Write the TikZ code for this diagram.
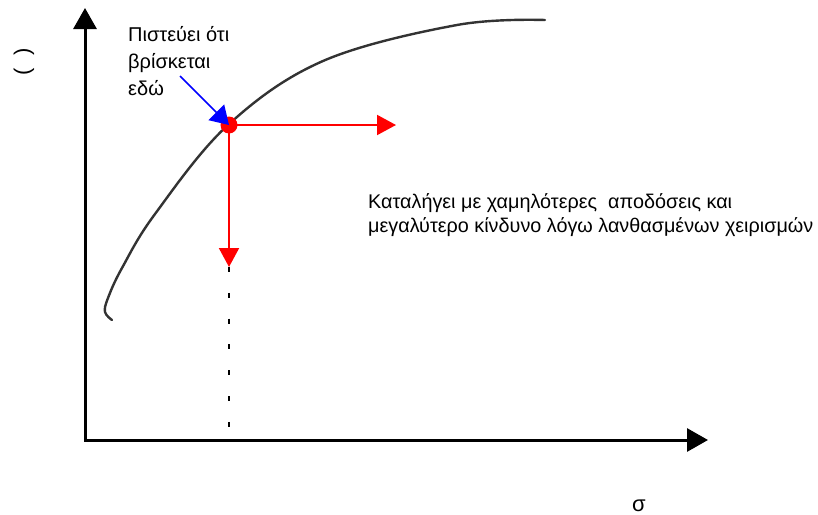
\documentclass[tikz,border=0pt]{standalone}
\usepackage{fontspec}
\setmainfont{Liberation Sans}
\usetikzlibrary{arrows.meta}
\begin{document}
\begin{tikzpicture}[x=1pt, y=-1pt,
    axisline/.style={line width=3pt, line join=miter},
    curveline/.style={line width=2.4pt, draw=black!80, line cap=round},
    redarrow/.style={draw=red, line width=2pt, -{Triangle[length=19pt,width=20pt]}},
    bluearrow/.style={draw=blue, line width=1.5pt, -{Triangle[length=18pt,width=22pt]}},
    reddot/.style={circle, fill=red, minimum size=17pt, inner sep=0pt},
    guideline/.style={line width=2.5pt, dash pattern=on 5pt off 20.8pt},
    notetext/.style={font=\fontsize{20}{27}\selectfont, align=left, inner sep=0pt},
    resulttext/.style={font=\fontsize{19.8}{24}\selectfont, align=left, inner sep=0pt},
    axislbl/.style={font=\fontsize{22}{24}\selectfont, inner sep=0pt}
  ]
  \useasboundingbox (0,0) rectangle (818,514);
  \coordinate (origin) at (85,440);
  \coordinate (ytip) at (85,8);
  \coordinate (xtip) at (708,440);
  \draw[axisline, {Triangle[length=21pt,width=23pt]}-{Triangle[length=21pt,width=23pt]}]
    (ytip) -- (origin) -- (xtip);
  \draw[curveline] plot[smooth, tension=0.6] coordinates {
    (112,320) (105,312) (108,298) (122,268) (155,214) (228,125)
    (323,61) (457,25) (545,20)};
  \node[reddot] (pt) at (229,125) {};
  \coordinate (hend) at (396,125);
  \coordinate (vend) at (229,267);
  \coordinate (foot) at (229,432);
  \coordinate (note) at (180,76);
  \draw[redarrow] (pt.center) -- (hend);
  \draw[redarrow] (pt.center) -- (vend);
  \draw[guideline] (vend) -- (foot);
  \draw[bluearrow] (note) -- (pt.center);
  \node[notetext, anchor=base west] (belief) at (128,95)
    {Πιστεύει ότι\\βρίσκεται\\εδώ};
  \node[resulttext, anchor=base west] (outcome) at (368,232)
    {Καταλήγει με χαμηλότερες~ αποδόσεις και\\μεγαλύτερο κίνδυνο λόγω λανθασμένων χειρισμών};
  \node[axislbl, rotate=90] (ylabel) at (24,62) {(~ )};
  \node[axislbl, anchor=base west] (xlabel) at (632,511) {σ};
\end{tikzpicture}
\end{document}
